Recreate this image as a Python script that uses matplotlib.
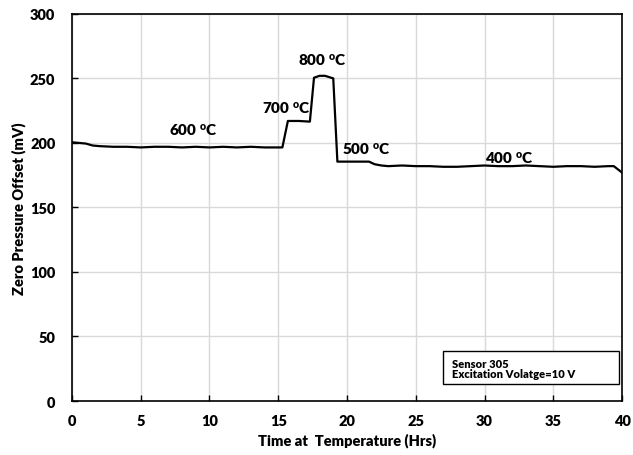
import matplotlib
matplotlib.use("Agg")
import matplotlib.pyplot as plt
from matplotlib.patches import Rectangle

plt.rcParams['font.family'] = ['Lato', 'DejaVu Sans']
plt.rcParams['font.weight'] = 'bold'
plt.rcParams['mathtext.default'] = 'regular'

# data
hrs = [0, 0.5, 1, 1.5, 2, 3, 4, 5, 6, 7, 8, 9, 10, 11, 12, 13, 14, 15, 15.3,
       15.7, 16.5, 17.3, 17.6, 18.0, 18.4, 19.0, 19.3, 20, 21, 21.6, 22.0,
       22.5, 23, 24, 25, 26, 27, 28, 29, 30, 31, 32, 33, 34, 35, 36, 37, 38,
       39, 39.4, 40]
mv = [200.5, 200, 199.5, 198, 197.5, 197, 197, 196.5, 197, 197, 196.5, 197,
      196.5, 197, 196.5, 197, 196.5, 196.5, 196.5, 217, 217, 216.5, 250.5,
      252, 252, 250, 185.5, 185.5, 185.5, 185.5, 183.5, 182.5, 182, 182.5,
      182, 182, 181.5, 181.5, 182, 182.5, 182, 182, 182.5, 182, 181.5, 182,
      182, 181.5, 182, 182, 177]

temp_labels = ['600', '700', '800', '500', '400']
label_x = [8.8, 15.6, 18.2, 21.4, 31.8]
label_y = [211, 228, 265, 196, 189]

fig = plt.figure(figsize=(6.33, 4.56), dpi=100)
ax = fig.add_axes([0.1137, 0.1184, 0.869, 0.849])

ax.plot(hrs, mv, color='black', lw=1.6)

for t, x, y in zip(temp_labels, label_x, label_y):
    ax.text(x, y, t + r' $^{o}$C', ha='center', va='center', fontsize=11,
            fontweight='heavy')

ax.set_xlim(0, 40)
ax.set_ylim(0, 300)
ax.set_xticks(range(0, 41, 5))
ax.set_yticks(range(0, 301, 50))
ax.grid(True, color='#d9d9d9', lw=1)
ax.set_axisbelow(True)
ax.tick_params(direction='in', labelsize=10.5, length=4, width=1)
ax.tick_params(axis='x', pad=9)
ax.tick_params(axis='y', pad=12)
for lab in ax.get_xticklabels() + ax.get_yticklabels():
    lab.set_fontweight('heavy')
for s in ax.spines.values():
    s.set_linewidth(1.2)

ax.set_xlabel('Time at  Temperature (Hrs)', fontsize=10.5, fontweight='heavy',
              labelpad=4)
ax.set_ylabel('Zero Pressure Offset (mV)', fontsize=10.5, fontweight='heavy',
              labelpad=3)

ax.add_patch(Rectangle((0.6745, 0.044), 0.32, 0.085, transform=ax.transAxes,
                       fc='white', ec='black', lw=1, zorder=5))
ax.text(0.69, 0.097, 'Sensor 305', transform=ax.transAxes, fontsize=8,
        fontweight='heavy', va='center', ha='left', zorder=6)
ax.text(0.69, 0.071, 'Excitation Volatge=10 V', transform=ax.transAxes,
        fontsize=8, fontweight='heavy', va='center', ha='left', zorder=6)

fig.savefig('out.png', dpi=100)
